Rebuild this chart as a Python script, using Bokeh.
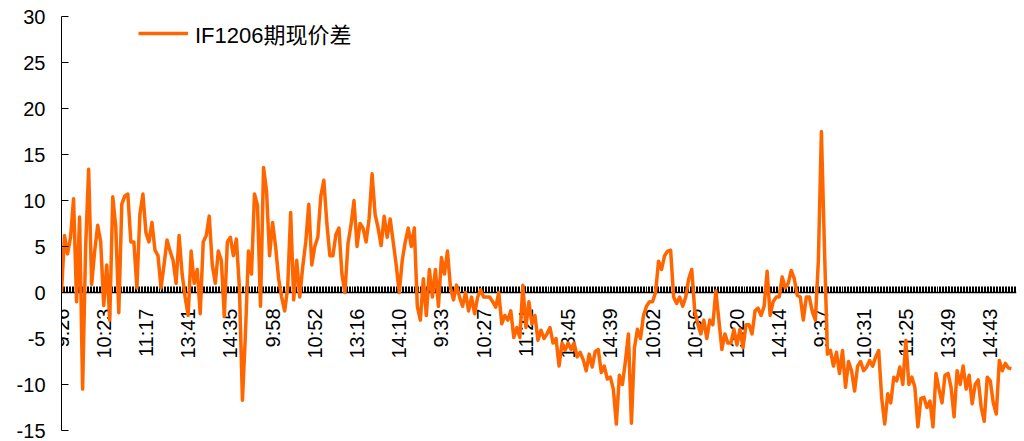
import numpy as np
from bokeh.plotting import figure
from bokeh.models import Range1d, FixedTicker, Legend, LegendItem, LinearAxis
from bokeh.embed import file_html
from bokeh.resources import INLINE

# ---- data ----
series_name = "IF1206期现价差"
spread = [
    0.0, 6.2, 4.2, 6.0, 10.2, -1.0, 8.2, -10.5, 4.9, 13.4, 0.9, 4.5, 7.3, 5.5,
    -1.4, 3.0, -3.0, 10.4, 7.1, -2.2, 9.6, 10.5, 10.7, 5.5, 5.5, 0.5, 8.5, 10.7,
    6.5, 5.5, 7.6, 4.6, 4.0, 0.5, 3.0, 5.7, 4.5, 3.5, 1.0, 6.2, 2.0, -0.5,
    -2.5, 4.5, 1.0, 2.5, -2.3, 5.5, 6.2, 8.3, 3.0, 1.0, 4.5, 3.5, -2.6, 5.5,
    6.0, 4.0, 5.8, 0.5, -11.7, -4.5, 4.5, 2.0, 10.7, 9.5, -1.5, 13.6, 11.0, 4.0,
    7.6, 5.0, 1.5, -0.5, -2.0, 0.5, 8.7, -0.8, 3.5, -0.5, 2.8, 5.5, 9.6, 3.0,
    5.0, 6.0, 10.5, 12.2, 7.5, 4.0, 4.0, 6.3, 7.0, 2.0, 0.0, 5.3, 7.3, 10.0,
    5.0, 7.5, 7.0, 5.5, 8.0, 12.9, 8.5, 7.0, 5.1, 8.3, 6.0, 8.0, 5.5, 3.0,
    0.0, 3.5, 5.5, 7.0, 5.0, 7.0, -1.5, -3.0, 1.5, -2.5, 2.5, -0.5, 2.5, -1.5,
    3.8, 2.0, 4.5, 0.5, -0.8, 0.8, -0.5, -1.5, 0.0, -2.0, -0.5, -2.3, -0.5, 0.3,
    -0.5, -0.5, -0.5, -1.0, -1.6, 0.0, -3.4, -2.5, -3.0, -2.0, -4.9, -3.8, -4.9, 0.8,
    -3.8, -1.0, -3.4, -2.5, -5.2, -4.1, -5.0, -4.5, -3.8, -5.5, -5.0, -8.0, -5.5, -6.3,
    -5.5, -6.2, -5.5, -7.0, -6.5, -7.3, -8.5, -6.7, -8.1, -6.4, -6.2, -8.7, -8.0, -9.4,
    -9.2, -10.5, -14.3, -9.0, -10.0, -7.5, -4.5, -14.2, -6.0, -4.0, -5.0, -2.5, -1.5, -1.0,
    -1.0, 0.0, 3.4, 2.5, 4.0, 4.5, 4.6, -0.5, -1.2, -0.5, -1.5, -0.5, 1.5, 2.5,
    -2.0, -3.4, -4.5, -3.0, -5.0, -3.0, -3.5, 0.2, -3.0, -6.2, -4.5, -5.5, -5.5, -4.0,
    -5.7, -4.0, -6.0, -3.5, -3.5, -4.5, -2.0, -1.7, -2.5, -1.5, 2.3, -2.5, -1.0, -0.5,
    -0.5, 1.7, 0.5, 1.0, 2.4, 1.5, -0.3, -0.5, -3.0, -0.5, -0.5, -2.1, -3.0, 3.5,
    17.5, 5.0, -6.7, -6.3, -8.0, -6.5, -8.8, -6.3, -10.3, -7.5, -8.5, -10.7, -8.0, -7.5,
    -8.5, -8.1, -7.4, -8.0, -7.0, -6.3, -11.5, -14.3, -11.0, -12.0, -9.2, -9.6, -8.1, -10.0,
    -5.2, -10.0, -9.2, -10.3, -14.6, -11.5, -11.4, -12.5, -11.8, -14.6, -8.8, -10.5, -12.0, -9.0,
    -8.8, -10.3, -13.5, -8.5, -10.0, -8.0, -10.5, -9.0, -12.1, -10.0, -9.5, -12.5, -14.0, -9.2,
    -9.6, -12.0, -13.2, -7.4, -8.5, -7.7, -8.2, -8.3,
]
tick_labels = ["9:26", "10:23", "11:17", "13:41", "14:35", "9:58", "10:52", "13:16",
               "14:10", "9:33", "10:27", "11:21", "13:45", "14:39", "10:02", "10:56",
               "13:20", "14:14", "9:37", "10:31", "11:25", "13:49", "14:43"]
label_step = 14
y_ticks = [-15, -10, -5, 0, 5, 10, 15, 20, 25, 30]

FONT = "Liberation Sans, Noto Sans CJK SC"
ORANGE = "#FF6600"

n = len(spread)
idx = np.arange(n)
label_idx = [int(i) for i in idx[::label_step][:len(tick_labels)]]
x_end = n + 0.7

p = figure(width=1024, height=441, output_backend="svg", toolbar_location=None,
           x_range=Range1d(0, x_end), y_range=Range1d(y_ticks[0], y_ticks[-1]),
           x_axis_location=None, min_border_left=61, min_border_right=8,
           min_border_top=16, min_border_bottom=11)
p.xgrid.visible = False
p.ygrid.visible = False
p.outline_line_color = None
p.background_fill_color = "white"

yax = p.yaxis[0]
yax.ticker = FixedTicker(ticks=y_ticks, minor_ticks=[])
yax.major_label_overrides = {t: str(t) for t in y_ticks}
yax.major_tick_in = 7
yax.major_tick_out = 0
yax.minor_tick_in = 0
yax.minor_tick_out = 0
yax.major_label_standoff = 16
yax.axis_line_color = "black"
yax.major_tick_line_color = "black"
yax.major_label_text_font = FONT
yax.major_label_text_font_size = "20px"
yax.major_label_text_color = "black"

# category axis crossing at zero
minor_pos = [float(v) for v in np.arange(0, x_end, 0.5)]
xax = LinearAxis(fixed_location=0,
                 ticker=FixedTicker(ticks=label_idx, minor_ticks=minor_pos),
                 major_label_overrides={i: t for i, t in zip(label_idx, tick_labels)},
                 major_label_orientation=np.pi / 2, major_label_standoff=16,
                 major_tick_in=6, major_tick_out=0, minor_tick_in=6, minor_tick_out=0,
                 axis_line_color="black", axis_line_width=1.5,
                 major_tick_line_color="black", minor_tick_line_color="black",
                 minor_tick_line_width=1,
                 major_label_text_font=FONT, major_label_text_font_size="20px",
                 major_label_text_color="black", level="underlay")
p.add_layout(xax, "below")

r = p.line(idx, spread, line_color=ORANGE, line_width=3.5, line_join="round")

legend = Legend(items=[LegendItem(label=series_name, renderers=[r])],
                location=(77, 381), glyph_width=50, glyph_height=24, label_height=24,
                label_standoff=7, padding=0, margin=0, border_line_color=None,
                background_fill_alpha=0, label_text_font=FONT,
                label_text_font_size="22px", label_text_color="black")
p.add_layout(legend)

open("out.html", "w").write(file_html(p, INLINE))
